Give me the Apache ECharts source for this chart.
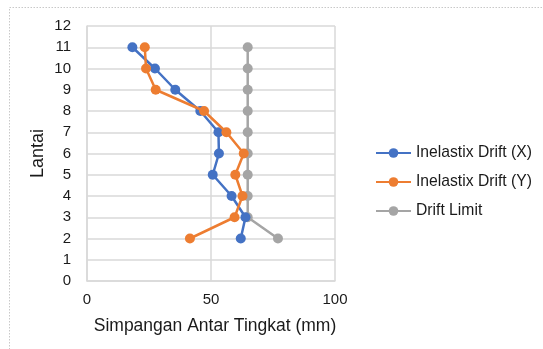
<!DOCTYPE html>
<html>
<head>
<meta charset="utf-8">
<script src="https://cdn.jsdelivr.net/npm/echarts@6/dist/echarts.min.js"></script>
<style>
  html, body { margin: 0; padding: 0; background: #fff; }
  #chart { width: 543px; height: 349px; }
</style>
</head>
<body>
<div id="chart"></div>
<script>
// Storey levels (Lantai) and inter-storey drift values in mm
const floors = [11, 10, 9, 8, 7, 6, 5, 4, 3, 2];
const driftX = [18.3, 27.4, 35.6, 45.7, 53.0, 53.2, 50.7, 58.3, 63.9, 62.0];
const driftY = [23.3, 23.8, 27.7, 47.2, 56.2, 63.2, 59.8, 62.7, 59.5, 41.5];
const driftLimit = [64.8, 64.8, 64.8, 64.8, 64.8, 64.8, 64.8, 64.8, 64.8, 77.0];

const seriesNames = ['Inelastix Drift (X)', 'Inelastix Drift (Y)', 'Drift Limit'];
const seriesColors = ['#4472C4', '#ED7D31', '#A5A5A5'];
const seriesValues = [driftX, driftY, driftLimit];

const font = 'Liberation Sans, Arial, sans-serif';
const textColor = '#1a1a1a';

const chart = echarts.init(document.getElementById('chart'), null, { renderer: 'canvas' });

chart.setOption({
  backgroundColor: '#fff',
  animation: false,
  textStyle: { fontFamily: font },
  graphic: [{
    type: 'rect',
    shape: { x: 9.5, y: 7.5, width: 700, height: 500 },
    style: { fill: 'none', stroke: '#C8C8C8', lineWidth: 1, lineDash: [1.5, 1.5] },
    silent: true,
    z: -1
  }],
  grid: { left: 87, right: 208, top: 26, bottom: 68 },
  legend: {
    orient: 'vertical',
    left: 375,
    top: 145,
    padding: 0,
    itemWidth: 35,
    itemHeight: 12,
    itemGap: 13,
    textStyle: { fontFamily: font, fontSize: 15.7, color: textColor },
    data: seriesNames
  },
  xAxis: {
    type: 'value',
    min: 0, max: 100, interval: 50,
    name: 'Simpangan Antar Tingkat (mm)',
    nameLocation: 'middle',
    nameGap: 36,
    nameTextStyle: { fontFamily: font, fontSize: 17.5, color: textColor, padding: [0, 0, 0, 8] },
    axisLine: { show: true, lineStyle: { color: '#D9D9D9', width: 1.5 } },
    axisTick: { show: false },
    axisLabel: { fontFamily: font, fontSize: 15, color: textColor, margin: 11 },
    splitLine: { show: true, lineStyle: { color: '#D9D9D9', width: 1.5 } }
  },
  yAxis: {
    type: 'value',
    min: 0, max: 12, interval: 1,
    name: 'Lantai',
    nameLocation: 'middle',
    nameGap: 40,
    nameTextStyle: { fontFamily: font, fontSize: 18, color: textColor },
    axisLine: { show: true, lineStyle: { color: '#D9D9D9', width: 1.5 } },
    axisTick: { show: false },
    axisLabel: { fontFamily: font, fontSize: 15, color: textColor, margin: 16 },
    splitLine: { show: true, lineStyle: { color: '#D9D9D9', width: 1.5 } }
  },
  series: seriesNames.map((name, i) => ({
    name: name,
    type: 'line',
    data: seriesValues[i].map((v, j) => [v, floors[j]]),
    symbol: 'circle',
    symbolSize: 10,
    lineStyle: { width: 2.5, color: seriesColors[i] },
    itemStyle: { color: seriesColors[i] },
    z: 2 + (i === 2 ? 0 : i + 1)
  }))
});
</script>
</body>
</html>
